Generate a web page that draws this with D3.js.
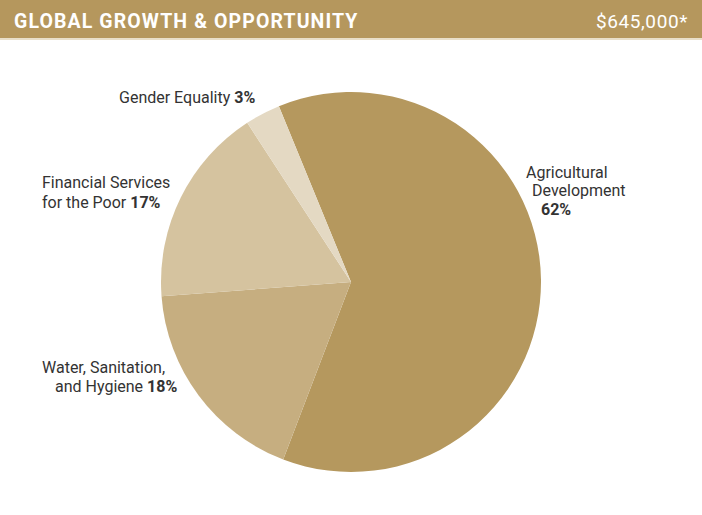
<!DOCTYPE html>
<html><head><meta charset="utf-8">
<script src="https://cdn.jsdelivr.net/npm/d3@7"></script>
<style>body{margin:0;background:#fff}svg{display:block}</style>
</head><body>
<svg id="c" width="702" height="515"></svg>
<script>
const categories = ["Agricultural Development", "Water, Sanitation, and Hygiene", "Financial Services for the Poor", "Gender Equality"];
const values = [62, 18, 17, 3];
const colors = ["#b5985e", "#c6ae80", "#d5c39f", "#e4d9c3"];
const title = "GLOBAL GROWTH & OPPORTUNITY";
const total = "$645,000*";
const labels = [
  {lines: ["Agricultural", "Development", ""], x: [526, 532, 541], y: [178, 196, 215], anchor: "start"},
  {lines: ["Water, Sanitation,", "and Hygiene "], x: [42, 55], y: [373, 392], anchor: "start"},
  {lines: ["Financial Services", "for the Poor "], x: [42, 42], y: [188, 208], anchor: "start"},
  {lines: ["Gender Equality "], x: [119], y: [103], anchor: "start"}
];

const svg = d3.select("#c");
const font = "Roboto, 'DejaVu Sans', sans-serif";
svg.append("rect").attr("x",0).attr("y",0).attr("width",702).attr("height",38).attr("fill","#b5975d");
svg.append("rect").attr("x",0).attr("y",38).attr("width",702).attr("height",2).attr("fill","#e9dfc9");
svg.append("text").attr("x",14).attr("y",28).attr("fill","#fff").attr("font-family",font)
  .attr("font-weight","bold").attr("font-size",19.5).attr("letter-spacing",1.1).text(title);
svg.append("text").attr("x",688).attr("y",28).attr("fill","#fff").attr("font-family",font)
  .attr("text-anchor","end").attr("font-size",19).attr("letter-spacing",0.6).text(total);

const cx = 351, cy = 282, r = 190;
const start = -22.3 * Math.PI / 180;
const pie = d3.pie().sort(null).startAngle(start).endAngle(start + 2*Math.PI);
const arcs = pie(values);
const arc = d3.arc().innerRadius(0).outerRadius(r);
const g = svg.append("g").attr("transform", `translate(${cx},${cy})`);
g.selectAll("path").data(arcs).join("path").attr("d", arc).attr("fill", (d,i) => colors[i]);

labels.forEach((L, i) => {
  L.lines.forEach((ln, j) => {
    const t = svg.append("text").attr("x", L.x[j]).attr("y", L.y[j]).attr("font-family", font)
      .attr("font-size", 16).attr("fill", "#333").attr("text-anchor", L.anchor);
    t.append("tspan").text(ln);
    if (j === L.lines.length - 1) t.append("tspan").attr("font-weight","bold").text(values[i] + "%");
  });
});
</script>
</body></html>
